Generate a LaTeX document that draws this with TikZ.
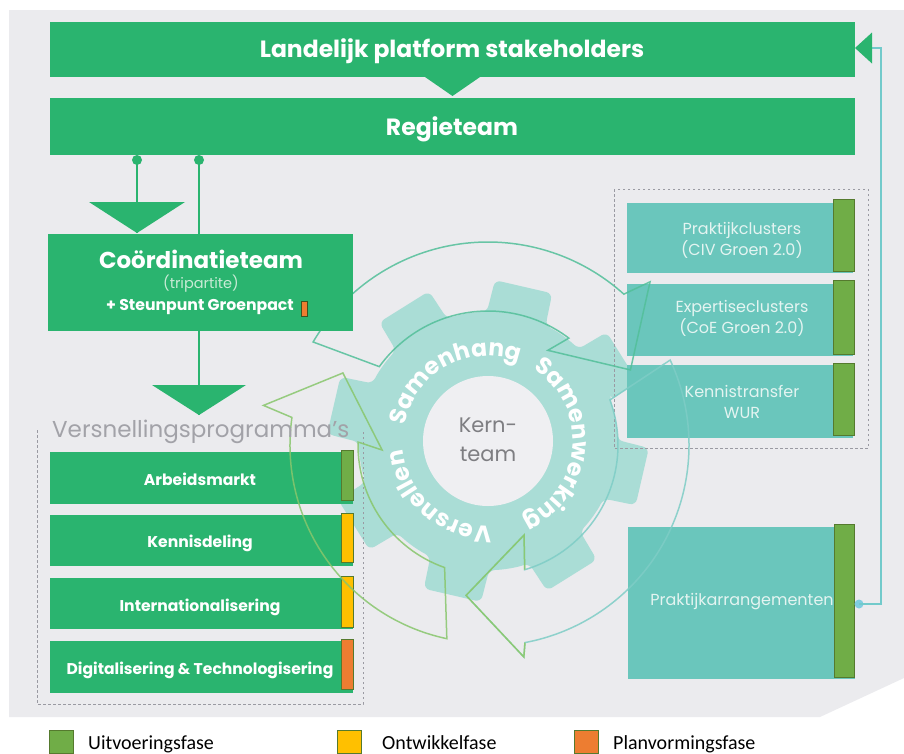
\documentclass[tikz,border=0pt]{standalone}
\usepackage{fontspec}
\setmainfont{Poppins}
\newfontfamily\legfont{Carlito}
\usetikzlibrary{calc,decorations.text}
\definecolor{bggrey}{HTML}{EBEBEE}
\definecolor{boxgreen}{HTML}{2AB46F}
\definecolor{boxteal}{HTML}{6AC6BC}
\definecolor{barg}{HTML}{70AD47}
\definecolor{bary}{HTML}{FFC000}
\definecolor{baro}{HTML}{ED7D31}
\definecolor{barline}{HTML}{557A2E}
\definecolor{gearc}{HTML}{AADDD6}
\definecolor{innerc}{HTML}{EFEFF2}
\definecolor{dashc}{HTML}{9A9AA2}
\definecolor{arrA}{HTML}{52BF99}
\definecolor{arrB}{HTML}{7ECDC6}
\definecolor{arrBh}{HTML}{8CC865}
\definecolor{arrC}{HTML}{88C66C}
\definecolor{conn}{HTML}{72CACB}
\definecolor{conndot}{HTML}{7FCDE0}
\definecolor{tealtext}{HTML}{E4F4F1}
\definecolor{greytext}{HTML}{A2A2A8}
\definecolor{kerntext}{HTML}{7E7E82}
\definecolor{tripc}{HTML}{C9EBD6}
\newcommand\gtxt{\color{white}\bfseries\fontsize{23.5}{23.5}\selectfont}
\tikzset{
  gbox/.style={fill=boxgreen, inner sep=0pt, outer sep=0pt},
  tbox/.style={fill=boxteal, inner sep=0pt, outer sep=0pt},
  phasebar/.style={draw=barline, line width=0.9pt, inner sep=0pt, outer sep=0pt},
  wtxt/.style={text=white, inner sep=0pt, align=center},
  titlef/.style={font=\bfseries\fontsize{23.5}{27}\selectfont},
  ttxt/.style={text=tealtext, inner sep=0pt, align=center, font=\fontsize{16}{21}\selectfont},
  ltxt/.style={text=white, inner sep=0pt, anchor=base, font=\bfseries\fontsize{15.6}{18}\selectfont},
  dashbox/.style={draw=dashc, line width=1pt, dash pattern=on 2.5pt off 2.5pt},
  gline/.style={draw=boxgreen, line width=1.6pt},
  gdot/.style={circle, fill=boxgreen, inner sep=0pt, minimum size=10pt},
  cdot/.style={circle, fill=conndot, inner sep=0pt, minimum size=9pt},
  connline/.style={draw=conn, line width=1.5pt},
  cycA/.style={draw=arrA, line width=1.5pt, draw opacity=0.85, line join=miter},
  cycB/.style={draw=arrB, line width=1.5pt, draw opacity=0.85, line join=miter},
  cycBh/.style={draw=arrBh, line width=1.5pt, draw opacity=0.85, line join=miter},
  cycC/.style={draw=arrC, line width=1.5pt, draw opacity=0.85, line join=miter},
  legsq/.style={draw=barline, line width=0.8pt, inner sep=0pt, minimum size=23.5pt},
  legtxt/.style={anchor=base west, inner sep=0pt, font=\legfont\fontsize{20}{24}\selectfont}
}
\begin{document}
\begin{tikzpicture}[x=1pt,y=-1pt]
\useasboundingbox (0,0) rectangle (904,753);
\fill[bggrey] (9,10) -- (904,10) -- (904,678) -- (820,717) -- (9,717) -- cycle;

\coordinate (CG) at (488,441);
\coordinate (CA) at (488,445);

% gear
\begin{scope}[shift={(488,441)}]
\fill[gearc, rounded corners=6pt] (18.5:129pt)
  \foreach \a in {32,77,122,167,212,257,302,347}{
   -- ({\a-10.5}:161pt) -- ({\a+10.5}:161pt) -- ({\a+13.5}:129pt)
   arc[start angle={\a+13.5}, end angle={\a+31.5}, radius=129pt]} -- cycle;
\end{scope}
\node[circle, fill=innerc, inner sep=0pt, minimum size=130pt] (kc) at (CG) {};
\node[align=center, text=kerntext, font=\fontsize{21}{29}\selectfont, inner sep=0pt] (kt) at (488,440) {Kern-\\team};
\begin{scope}[shift={(488,441)}]
\path[decorate, decoration={text along path, text align=center, text={|\gtxt|Samenhang}}] (179:85pt) arc[start angle=179, end angle=59, radius=85pt];
\path[decorate, decoration={text along path, text align=center, text={|\gtxt|Samenwerking}}] (70:85pt) arc[start angle=70, end angle=-78, radius=85pt];
\path[decorate, decoration={text along path, text align=center, text={|\gtxt|Versnellen}}] (286:85pt) arc[start angle=286, end angle=172, radius=85pt];
\end{scope}

% dashed groups
\draw[dashbox] (37,430) -- (37,704) -- (363,704) -- (363,430);
\draw[dashbox] (614,189) rectangle (868,448);

% top boxes
\node[gbox, minimum width=805pt, minimum height=55pt] (lps) at (452.5,49.5) {};
\node[wtxt, titlef, anchor=base] (lpst) at (452,57.5) {Landelijk platform stakeholders};
\node[gbox, minimum width=805pt, minimum height=57pt] (regie) at (452.5,126.5) {};
\node[wtxt, titlef, anchor=base] (regiet) at (452,135) {Regieteam};
\fill[boxgreen] ($(lps.south)+(-27.5,0)$) -- ($(lps.south)+(27.5,0)$) -- ($(lps.south)+(0,19)$) -- cycle;

% coordination box (placed now, filled later)
\path node[inner sep=0pt, outer sep=0pt, minimum width=305pt, minimum height=97pt] (coord) at (200.5,282.5) {};
\node[gdot] (d1) at (137,160) {};
\node[gdot] (d2) at (199,160) {};
\coordinate (t1a) at (137,233);
\draw[gline] (d1.center) -- (t1a);
\fill[boxgreen] (89,202) -- (185,202) -- (t1a) -- cycle;
\draw[gline] (d2.center) -- (d2 |- coord.north);
\coordinate (t2a) at (199,415);
\draw[gline] (d2 |- coord.south) -- (t2a);
\fill[boxgreen] (152,385) -- (246,385) -- (t2a) -- cycle;

% versnellingsprogramma's list
\node[gbox, minimum width=303pt, minimum height=52pt] (arb) at (201.5,478) {};
\node[phasebar, fill=barg, minimum width=12pt, minimum height=50pt] (arbb) at (347,475) {};
\node[ltxt] (arbt) at (200,485) {Arbeidsmarkt};
\node[gbox, minimum width=303pt, minimum height=51pt] (ken) at (201.5,540.5) {};
\node[phasebar, fill=bary, minimum width=12pt, minimum height=49pt] (kenb) at (347,537.5) {};
\node[ltxt] (kent) at (200,547) {Kennisdeling};
\node[gbox, minimum width=303pt, minimum height=51pt] (int) at (201.5,603.5) {};
\node[phasebar, fill=bary, minimum width=12pt, minimum height=51pt] (intb) at (347,601.5) {};
\node[ltxt] (intt) at (200,611) {Internationalisering};
\node[gbox, minimum width=303pt, minimum height=52pt] (dig) at (201.5,667) {};
\node[phasebar, fill=baro, minimum width=12pt, minimum height=50pt] (digb) at (347,664) {};
\node[ltxt] (digt) at (200,674) {Digitalisering \& Technologisering};

% right boxes
\node[tbox, minimum width=226pt, minimum height=70pt] (pc) at (740,238) {};
\node[phasebar, fill=barg, minimum width=21pt, minimum height=72pt] (pcb) at (843.5,235) {};
\node[ttxt] (pct) at (742,240) {Praktijkclusters\\(CIV Groen 2.0)};
\node[tbox, minimum width=226pt, minimum height=72pt] (ec) at (740,320) {};
\node[phasebar, fill=barg, minimum width=21pt, minimum height=74pt] (ecb) at (843.5,317) {};
\node[ttxt] (ect) at (742,318) {Expertiseclusters\\(CoE Groen 2.0)};
\node[tbox, minimum width=226pt, minimum height=73pt] (kw) at (740,401.5) {};
\node[phasebar, fill=barg, minimum width=21pt, minimum height=72pt] (kwb) at (843.5,399) {};
\node[ttxt] (kwt) at (742,402) {Kennistransfer\\WUR};
\node[tbox, minimum width=227pt, minimum height=152pt] (pa) at (741.5,603) {};
\node[phasebar, fill=barg, minimum width=20pt, minimum height=153pt] (pab) at (844,600.5) {};
\node[ttxt] (pat) at (742,602) {Praktijkarrangementen};

% feedback connector
\node[cdot] (pdot) at (859,604) {};
\coordinate (cturn) at (881,48);
\coordinate (ctip) at (870,48);
\draw[connline] (pdot.center) -| (cturn) -- (ctip);
\fill[boxgreen] ($(lps.east)+(0,-1.5)$) -- ($(lps.east)+(17,-17)$) -- ($(lps.east)+(17,14)$) -- cycle;

% cycle arrows
\draw[cycA] ($(CA)+(149.5:203pt)$) arc[start angle=149.5, end angle=48, radius=203pt]
  -- ($(CA)+(45.2:230pt)$) -- ($(CA)+(27.8:161pt)$) -- ($(CA)+(57.7:112pt)$)
  -- ($(CA)+(52.9:134pt)$) arc[start angle=52.9, end angle=144.2, radius=134pt] -- cycle;
\draw[cycB] ($(CA)+(25:201pt)$) arc[start angle=25, end angle=-79.4, radius=201pt]
  -- ($(CA)+(-80.4:215pt)$) -- ($(CA)+(-98.3:152pt)$) -- ($(CA)+(-68.2:97pt)$)
  -- ($(CA)+(-73.6:130pt)$) arc[start angle=-73.6, end angle=20.3, radius=130pt] -- cycle;
\draw[cycBh] ($(CA)+(-79.4:201pt)$) -- ($(CA)+(-80.4:215pt)$) -- ($(CA)+(-98.3:152pt)$)
  -- ($(CA)+(-68.2:97pt)$) -- ($(CA)+(-73.6:130pt)$);
\draw[cycC] ($(CA)+(258:198pt)$) arc[start angle=258, end angle=172, radius=198pt]
  -- ($(CA)+(170:228pt)$) -- ($(CA)+(153.6:162pt)$) -- ($(CA)+(182.7:106pt)$)
  -- ($(CA)+(178.7:130pt)$) arc[start angle=178.7, end angle=250.5, radius=130pt] -- cycle;

% coordination box on top
\fill[boxgreen] (coord.south west) rectangle (coord.north east);
\node[wtxt, anchor=base, font=\bfseries\fontsize{23}{26}\selectfont] (coordt) at (201,268) {Coördinatieteam};
\node[anchor=base, inner sep=0pt, text=tripc, font=\fontsize{14.5}{16}\selectfont] (trip) at (201,288) {(tripartite)};
\node[wtxt, anchor=base, font=\bfseries\fontsize{15.7}{18}\selectfont] (steun) at (200,310) {+ Steunpunt Groenpact};
\node[draw=barline!70!black, line width=0.7pt, fill=baro, inner sep=0pt, minimum width=6pt, minimum height=15pt] (sbar) at (304,308.5) {};

\node[anchor=base west, inner sep=0pt, text=greytext, font=\fontsize{23}{26}\selectfont] (vp) at (52,437) {Versnellingsprogramma's};

% legend
\node[legsq, fill=barg] (lg1) at (61.5,742) {};
\node[legtxt] (lg1t) at (88,749) {Uitvoeringsfase};
\node[legsq, fill=bary] (lg2) at (349.5,742) {};
\node[legtxt] (lg2t) at (382,749) {Ontwikkelfase};
\node[legsq, fill=baro] (lg3) at (586.5,742) {};
\node[legtxt] (lg3t) at (613,749) {Planvormingsfase};
\end{tikzpicture}
\end{document}
